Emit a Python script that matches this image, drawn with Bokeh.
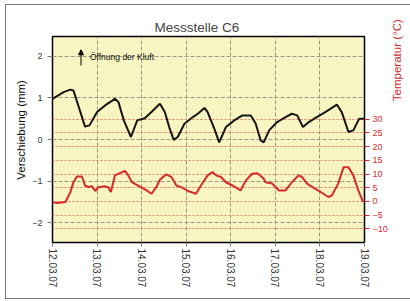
import math
from bokeh.plotting import figure
from bokeh.models import LinearAxis, Range1d, FixedTicker, Grid, Arrow, NormalHead, Label
from bokeh.embed import file_html
from bokeh.resources import INLINE

# ---- data (days after 12.03.07 00:00) ----
date_labels = ["12.03.07", "13.03.07", "14.03.07", "15.03.07",
               "16.03.07", "17.03.07", "18.03.07", "19.03.07"]

mm_days = [0.00, 0.25, 0.40, 0.47, 0.59, 0.73, 0.83, 1.00, 1.18, 1.40, 1.48, 1.60,
           1.76, 1.90, 2.07, 2.22, 2.41, 2.52, 2.63, 2.72, 2.81, 2.96, 3.15, 3.26,
           3.41, 3.48, 3.63, 3.74, 3.89, 4.08, 4.26, 4.45, 4.56, 4.67, 4.74, 4.86,
           5.04, 5.23, 5.37, 5.49, 5.62, 5.75, 5.93, 6.12, 6.38, 6.49, 6.64, 6.75,
           6.88, 7.00]
shift_mm = [0.98, 1.14, 1.20, 1.18, 0.78, 0.31, 0.34, 0.66, 0.82, 0.98, 0.90, 0.46,
            0.06, 0.46, 0.51, 0.66, 0.86, 0.66, 0.26, -0.01, 0.06, 0.38, 0.54, 0.62,
            0.76, 0.66, 0.26, -0.07, 0.30, 0.46, 0.58, 0.58, 0.38, -0.02, -0.07, 0.22,
            0.42, 0.54, 0.62, 0.58, 0.30, 0.42, 0.54, 0.66, 0.84, 0.66, 0.18, 0.22,
            0.50, 0.50]

temp_days = [0.00, 0.10, 0.29, 0.40, 0.47, 0.55, 0.66, 0.73, 0.81, 0.88, 0.96, 1.03,
             1.18, 1.25, 1.31, 1.40, 1.51, 1.63, 1.70, 1.78, 1.92, 2.11, 2.22, 2.33,
             2.41, 2.55, 2.67, 2.78, 2.89, 3.04, 3.22, 3.33, 3.48, 3.59, 3.67, 3.78,
             3.89, 4.04, 4.22, 4.34, 4.48, 4.60, 4.74, 4.78, 4.93, 5.08, 5.23, 5.37,
             5.52, 5.60, 5.71, 5.90, 6.08, 6.19, 6.27, 6.41, 6.53, 6.64, 6.75, 6.86,
             6.97]
temp_c = [-0.25, -0.6, -0.2, 3.4, 7.0, 9.1, 9.1, 5.8, 5.2, 5.6, 3.8, 5.2,
          5.5, 5.2, 3.4, 9.5, 10.3, 11.1, 9.5, 7.0, 5.8, 4.0, 2.8, 5.2,
          7.9, 9.9, 8.9, 5.8, 5.2, 3.8, 2.8, 5.8, 9.5, 10.7, 9.5, 8.9,
          7.0, 5.8, 4.0, 7.7, 10.1, 10.3, 8.3, 7.0, 6.5, 4.0, 4.0, 7.0,
          9.5, 8.9, 6.5, 4.6, 2.8, 1.6, 2.2, 6.5, 12.5, 12.5, 9.5, 4.0,
          -0.25]

mm_ticks = [-2, -1, 0, 1, 2]
temp_ticks = [-10, -5, 0, 5, 10, 15, 20, 25, 30]

FONT = "Liberation Sans"
RED = "#d42a2a"
NB = "\u00a0"

p = figure(width=405, height=295,
           x_range=Range1d(0, 7), y_range=Range1d(-2.48, 2.48),
           output_backend="svg", toolbar_location=None,
           min_border_left=46, min_border_right=44,
           min_border_top=31, min_border_bottom=58,
           background_fill_color="#f8f5c2", border_fill_color="white")
p.styles = {"border-left": "1px solid #777", "border-top": "1px solid #777",
            "border-bottom": "1px solid #777",
            "margin-left": "5px", "margin-top": "4px"}
p.extra_y_ranges = {"temp": Range1d(-15, 60.2)}

p.outline_line_color = "black"
p.outline_line_width = 1.5

p.title.text = "Messstelle C6"
p.title.text_font = FONT
p.title.text_font_size = "13.5px"
p.title.text_font_style = "normal"
p.title.align = "left"
p.title.offset = 102
p.title.standoff = 4

# x axis
xa = p.xaxis[0]
xa.ticker = FixedTicker(ticks=list(range(len(date_labels))))
xa.major_label_overrides = {i: s for i, s in enumerate(date_labels)}
xa.major_label_orientation = "vertical"
xa.major_label_text_font = FONT
xa.major_label_text_font_size = "10px"
xa.major_label_text_color = "#333"
xa.axis_line_color = None
xa.major_tick_line_color = "#777"
xa.major_tick_out = 4
xa.major_tick_in = 0
xa.minor_tick_line_color = None
xa.major_label_standoff = 2

# left axis (leading no-break spaces shift the title up a little)
ya = p.yaxis[0]
ya.ticker = FixedTicker(ticks=mm_ticks)
ya.axis_label = NB * 6 + "Verschiebung (mm)"
ya.axis_label_text_font = FONT
ya.axis_label_text_font_size = "11.5px"
ya.axis_label_text_font_style = "normal"
ya.axis_label_text_color = "#111"
ya.axis_label_standoff = 2
ya.major_label_text_font = FONT
ya.major_label_text_font_size = "9px"
ya.major_label_text_color = "#333"
ya.major_label_standoff = 5
ya.axis_line_color = None
ya.major_tick_line_color = "#777"
ya.major_tick_out = 5
ya.major_tick_in = 0
ya.minor_tick_line_color = None

# right axis: title reads bottom-to-top; leading no-break spaces move it down
ra = LinearAxis(y_range_name="temp", ticker=FixedTicker(ticks=temp_ticks))
try:
    ra.axis_label_orientation = math.pi / 2
except Exception:
    pass
ra.axis_label = NB * 12 + "Temperatur (°C)"
ra.axis_label_text_font = FONT
ra.axis_label_text_font_size = "11.5px"
ra.axis_label_text_font_style = "normal"
ra.axis_label_text_color = RED
ra.axis_label_standoff = 6
ra.major_label_text_font = FONT
ra.major_label_text_font_size = "9px"
ra.major_label_text_color = RED
ra.major_label_standoff = 3
ra.axis_line_color = None
ra.major_tick_line_color = RED
ra.major_tick_out = 5
ra.major_tick_in = 0
ra.minor_tick_line_color = None
p.add_layout(ra, "right")

# grids
p.xgrid.ticker = xa.ticker
p.xgrid.grid_line_color = "#9a9a86"
p.xgrid.grid_line_dash = "4 2"
p.xgrid.grid_line_width = 1
p.ygrid.ticker = ya.ticker
p.ygrid.grid_line_color = "#9a9a86"
p.ygrid.grid_line_dash = "4 2"
p.ygrid.grid_line_width = 1
tgrid = Grid(dimension=1, ticker=ra.ticker, y_range_name="temp",
             grid_line_color="#e07a6a", grid_line_dash="2 2", grid_line_width=1)
p.add_layout(tgrid)

# data lines
p.line(mm_days, shift_mm, line_color="#151515", line_width=2)
p.line(temp_days, temp_c, y_range_name="temp", line_color=RED, line_width=2)

# annotation
p.add_layout(Arrow(end=NormalHead(size=5, fill_color="black", line_color="black"),
                   x_start=0.64, y_start=1.78, x_end=0.64, y_end=2.16,
                   line_color="black", line_width=1))
p.add_layout(Label(x=0.84, y=1.98, text="Öffnung der Kluft", text_font=FONT,
                   text_font_size="8.5px", text_baseline="middle", text_color="#111"))

open("out.html", "w").write(file_html(p, INLINE))
